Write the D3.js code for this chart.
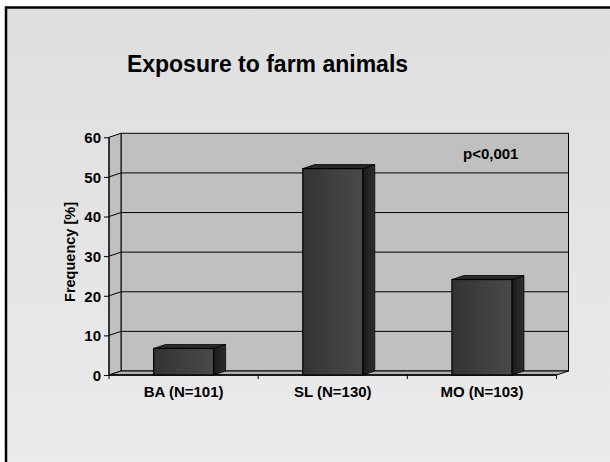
<!DOCTYPE html>
<html>
<head>
<meta charset="utf-8">
<script src="https://cdn.jsdelivr.net/npm/d3@7"></script>
<style>
  body { margin: 0; background: #fff; }
  text { font-family: Arial, "Liberation Sans", sans-serif; font-weight: bold; fill: #000; }
</style>
</head>
<body>
<div id="container"></div>
<script>
// data
var categories = ["BA (N=101)", "SL (N=130)", "MO (N=103)"];
var frequency = [6.7, 52.1, 24.1];
var yTicks = [0, 10, 20, 30, 40, 50, 60];

var width = 610, height = 462;
var depthX = 12, depthY = 4;   // 3d offset of the back wall

const svg = d3.select("#container")
              .append("svg")
              .attr("width", width)
              .attr("height", height);

var defs = svg.append("defs");

var bg = defs.append("linearGradient").attr("id", "bg")
             .attr("x1", 0).attr("y1", 0).attr("x2", 0).attr("y2", 1);
bg.append("stop").attr("offset", "0%").attr("stop-color", "#dedede");
bg.append("stop").attr("offset", "100%").attr("stop-color", "#ececec");

var front = defs.append("linearGradient").attr("id", "front")
                .attr("x1", 0).attr("y1", 0).attr("x2", 1).attr("y2", 0);
front.append("stop").attr("offset", "0%").attr("stop-color", "#333333");
front.append("stop").attr("offset", "100%").attr("stop-color", "#4a4a4a");

var side = defs.append("linearGradient").attr("id", "side")
               .attr("x1", 0).attr("y1", 0).attr("x2", 1).attr("y2", 0);
side.append("stop").attr("offset", "0%").attr("stop-color", "#1a1a1a");
side.append("stop").attr("offset", "100%").attr("stop-color", "#2e2e2e");

// slide background + frame
svg.append("rect")
   .attr("x", 6).attr("y", 7.5)
   .attr("width", 700).attr("height", 500)
   .attr("fill", "url(#bg)")
   .attr("stroke", "#000")
   .attr("stroke-width", 2.5);

// scales
var xScale = d3.scaleBand()
               .domain(categories)
               .range([109, 556.5]);

var yScale = d3.scaleLinear()
               .domain([0, 60])
               .range([375, 137.3]);

var x0 = xScale.range()[0], x1 = xScale.range()[1];
var yTop = yScale(60), yBot = yScale(0);

// back wall
svg.append("rect")
   .attr("x", x0 + depthX).attr("y", yTop - depthY)
   .attr("width", x1 - x0).attr("height", yBot - yTop)
   .attr("fill", "#c0c0c0")
   .attr("stroke", "#000");

// side wall
svg.append("path")
   .attr("d", "M" + x0 + "," + yBot + "L" + x0 + "," + yTop +
              "L" + (x0 + depthX) + "," + (yTop - depthY) +
              "L" + (x0 + depthX) + "," + (yBot - depthY) + "Z")
   .attr("fill", "#c0c0c0")
   .attr("stroke", "#000");

// gridlines
svg.selectAll(".grid")
   .data(yTicks.slice(1, -1))
   .enter()
   .append("path")
   .attr("class", "grid")
   .attr("d", (d) => "M" + x0 + "," + yScale(d) +
                     "L" + (x0 + depthX) + "," + (yScale(d) - depthY) +
                     "L" + (x1 + depthX) + "," + (yScale(d) - depthY))
   .attr("fill", "none")
   .attr("stroke", "#000");

// floor
svg.append("path")
   .attr("d", "M" + x0 + "," + yBot + "L" + x1 + "," + yBot +
              "L" + (x1 + depthX) + "," + (yBot - depthY) +
              "L" + (x0 + depthX) + "," + (yBot - depthY) + "Z")
   .attr("fill", "#b0b0b0")
   .attr("stroke", "#000");

// axes
var yAxis = d3.axisLeft(yScale).tickValues(yTicks).tickSize(5).tickPadding(3);
var gy = svg.append("g")
   .attr("transform", "translate(" + x0 + ",0)")
   .call(yAxis);
gy.select(".domain").remove();
gy.selectAll("text").style("font-size", "15px").attr("dy", "0.36em");
svg.append("line")
   .attr("x1", x0).attr("x2", x0)
   .attr("y1", yTop).attr("y2", yBot)
   .attr("stroke", "#000");

var xAxis = d3.axisBottom(xScale).tickSize(0).tickPadding(11);
var gx = svg.append("g")
   .attr("transform", "translate(0," + yBot + ")")
   .call(xAxis);
gx.select(".domain").remove();
gx.selectAll("text").style("font-size", "15px");

// category separators
svg.selectAll(".xtick")
   .data(categories.concat(["end"]))
   .enter()
   .append("line")
   .attr("class", "xtick")
   .attr("x1", (d, i) => x0 + i * xScale.bandwidth())
   .attr("x2", (d, i) => x0 + i * xScale.bandwidth())
   .attr("y1", yBot).attr("y2", yBot + 4)
   .attr("stroke", "#000");

svg.append("line")
   .attr("x1", x0).attr("x2", x1)
   .attr("y1", yBot).attr("y2", yBot)
   .attr("stroke", "#000").attr("stroke-width", 1.5);

// bars
var barW = 60;
var bars = svg.selectAll(".bar")
   .data(frequency)
   .enter()
   .append("g")
   .attr("class", "bar");

bars.append("path")
   .attr("d", (d, i) => {
       var bx = xScale(categories[i]) + xScale.bandwidth() / 2 + barW / 2;
       var by = yScale(d);
       return "M" + bx + "," + by + "L" + (bx + depthX) + "," + (by - depthY) +
              "L" + (bx + depthX) + "," + (yBot - depthY) + "L" + bx + "," + yBot + "Z";
   })
   .attr("fill", "url(#side)")
   .attr("stroke", "#000").attr("stroke-width", 0.8);

bars.append("path")
   .attr("d", (d, i) => {
       var bx = xScale(categories[i]) + xScale.bandwidth() / 2 - barW / 2;
       var by = yScale(d);
       return "M" + bx + "," + by + "L" + (bx + barW) + "," + by +
              "L" + (bx + barW + depthX) + "," + (by - depthY) +
              "L" + (bx + depthX) + "," + (by - depthY) + "Z";
   })
   .attr("fill", "#2a2a2a")
   .attr("stroke", "#000").attr("stroke-width", 0.8);

bars.append("rect")
   .attr("x", (d, i) => xScale(categories[i]) + xScale.bandwidth() / 2 - barW / 2)
   .attr("y", (d) => yScale(d))
   .attr("width", barW)
   .attr("height", (d) => yBot - yScale(d))
   .attr("fill", "url(#front)")
   .attr("stroke", "#000").attr("stroke-width", 1.2);

// texts
svg.append("text")
   .attr("x", 267.5).attr("y", 72)
   .attr("text-anchor", "middle")
   .style("font-size", "23px")
   .text("Exposure to farm animals");

svg.append("text")
   .attr("transform", "translate(75,252) rotate(-90)")
   .attr("text-anchor", "middle")
   .style("font-size", "14.5px")
   .text("Frequency [%]");

svg.append("text")
   .attr("x", 463).attr("y", 158.5)
   .style("font-size", "15px")
   .text("p<0,001");
</script>
</body>
</html>
